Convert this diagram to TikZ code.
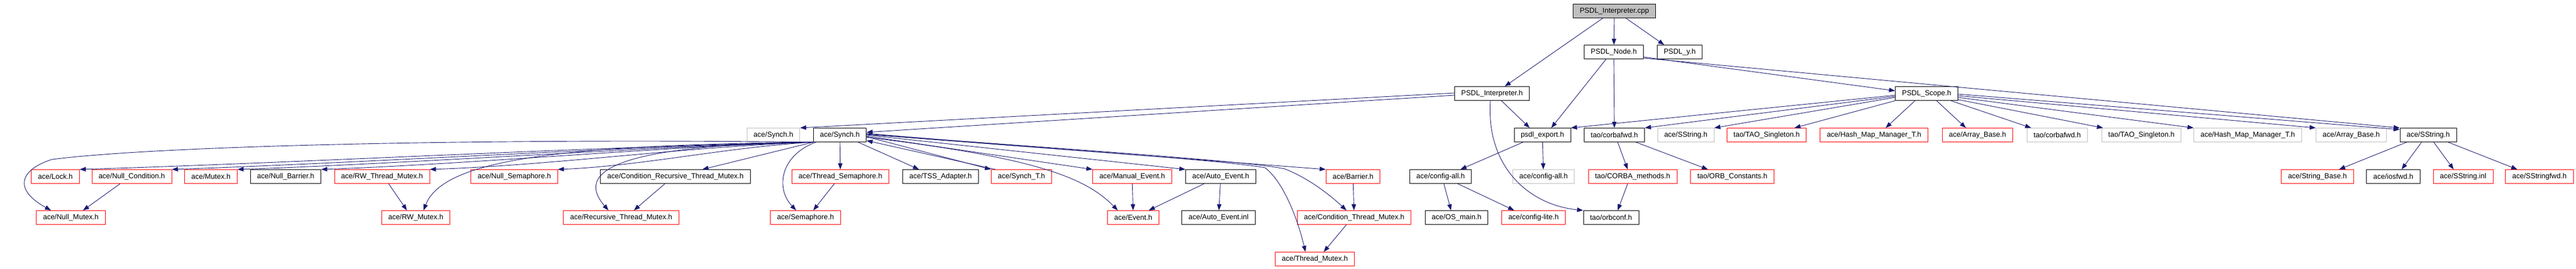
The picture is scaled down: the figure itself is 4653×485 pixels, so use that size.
\documentclass[tikz,border=0pt]{standalone}
\usepackage{fontspec}
\usetikzlibrary{arrows.meta}
\newfontfamily\filefont{Liberation Sans}
\definecolor{midnight}{RGB}{25,25,112}
\definecolor{doxgrey}{RGB}{191,191,191}

\begin{document}
\begin{tikzpicture}[
    x=1pt, y=-1pt,
    file/.style={rectangle, draw=black, line width=0.9pt, fill=white,
        minimum height=25pt, inner xsep=12pt, inner ysep=0pt,
        font={\filefont\fontsize{13}{15}\selectfont}},
    redfile/.style={file, draw=red},
    greyfile/.style={file, draw=doxgrey},
    root/.style={file, fill=doxgrey},
    edge/.style={midnight, line width=0.9pt, -{Triangle[length=11pt,width=8pt]}}
]
    \useasboundingbox (0,0) rectangle (4653,485);
    % top rows
    \node[root] (cpp) at (2916,20) {PSDL\_Interpreter.cpp};
    \node[file] (psdlnode) at (2915,94) {PSDL\_Node.h};
    \node[file] (psdly) at (3034,94) {PSDL\_y.h};
    \node[file] (interp) at (2695,169) {PSDL\_Interpreter.h};
    \node[file] (scope) at (3480,169) {PSDL\_Scope.h};
    % row 4
    \node[greyfile] (synchg) at (1397,244) {ace/Synch.h};
    \node[file] (synch) at (1517,244) {ace/Synch.h};
    \node[file] (export) at (2786,244) {psdl\_export.h};
    \node[file] (corbafwd) at (2916,244) {tao/corbafwd.h};
    \node[greyfile] (sstringg) at (3045,244) {ace/SString.h};
    \node[redfile] (taosing) at (3191,244) {tao/TAO\_Singleton.h};
    \node[redfile] (hashmap) at (3385,244) {ace/Hash\_Map\_Manager\_T.h};
    \node[redfile] (arraybase) at (3572,244) {ace/Array\_Base.h};
    \node[greyfile] (corbafwdg) at (3716,244) {tao/corbafwd.h};
    \node[greyfile] (taosingg) at (3868,244) {tao/TAO\_Singleton.h};
    \node[greyfile] (hashmapg) at (4060,244) {ace/Hash\_Map\_Manager\_T.h};
    \node[greyfile] (arraybaseg) at (4247,244) {ace/Array\_Base.h};
    \node[file] (sstring) at (4386,244) {ace/SString.h};
    % row 5
    \node[redfile] (lock) at (100,319) {ace/Lock.h};
    \node[redfile] (nullcond) at (238,319) {ace/Null\_Condition.h};
    \node[redfile] (mutex) at (381,319) {ace/Mutex.h};
    \node[file] (nullbarrier) at (516,319) {ace/Null\_Barrier.h};
    \node[redfile] (rwthread) at (690,319) {ace/RW\_Thread\_Mutex.h};
    \node[redfile] (nullsem) at (929,319) {ace/Null\_Semaphore.h};
    \node[file] (condrec) at (1220,319) {ace/Condition\_Recursive\_Thread\_Mutex.h};
    \node[redfile] (threadsem) at (1518,319) {ace/Thread\_Semaphore.h};
    \node[file] (tss) at (1699,319) {ace/TSS\_Adapter.h};
    \node[redfile] (syncht) at (1845,319) {ace/Synch\_T.h};
    \node[redfile] (manual) at (2045,319) {ace/Manual\_Event.h};
    \node[file] (auto) at (2205,319) {ace/Auto\_Event.h};
    \node[redfile] (barrier) at (2444,319) {ace/Barrier.h};
    \node[file] (configall) at (2602,319) {ace/config-all.h};
    \node[greyfile] (configallg) at (2788,319) {ace/config-all.h};
    \node[redfile] (corbameth) at (2949,319) {tao/CORBA\_methods.h};
    \node[redfile] (orbconst) at (3129,319) {tao/ORB\_Constants.h};
    \node[redfile] (stringbase) at (4186,319) {ace/String\_Base.h};
    \node[file] (iosfwd) at (4323,319) {ace/iosfwd.h};
    \node[redfile] (sstringinl) at (4449,319) {ace/SString.inl};
    \node[redfile] (sstringfwd) at (4587,319) {ace/SStringfwd.h};
    % row 6
    \node[redfile] (nullmutex) at (128,393) {ace/Null\_Mutex.h};
    \node[redfile] (rwmutex) at (751,393) {ace/RW\_Mutex.h};
    \node[redfile] (recthread) at (1122,393) {ace/Recursive\_Thread\_Mutex.h};
    \node[redfile] (semaphore) at (1455,393) {ace/Semaphore.h};
    \node[redfile] (event) at (2047,393) {ace/Event.h};
    \node[file] (autoinl) at (2201,393) {ace/Auto\_Event.inl};
    \node[redfile] (condthread) at (2446,393) {ace/Condition\_Thread\_Mutex.h};
    \node[file] (osmain) at (2631,393) {ace/OS\_main.h};
    \node[redfile] (configlite) at (2770,393) {ace/config-lite.h};
    \node[file] (orbconf) at (2910,393) {tao/orbconf.h};
    % row 7
    \node[redfile] (threadmutex) at (2375,468) {ace/Thread\_Mutex.h};

    % PSDL files
    \draw[edge] ([xshift=-21pt]cpp.south) -- ([xshift=23pt]interp.north);
    \draw[edge] (cpp) -- (psdlnode);
    \draw[edge] ([xshift=21pt]cpp.south) -- ([xshift=-28pt]psdly.north);
    \draw[edge] ([yshift=1pt]interp.west) -- (synchg.north east);
    \draw[edge] ([yshift=-3pt]interp.west) -- ([yshift=5pt]synch.east);
    \draw[edge] ([xshift=17pt]interp.south) -- ([xshift=-23pt]export.north);
    \draw[edge] ([xshift=-3pt]interp.south) .. controls (2684,300) and (2760,370) .. (orbconf.north west);
    \draw[edge] ([xshift=-14pt]psdlnode.south) -- ([xshift=16pt]export.north);
    \draw[edge] (psdlnode) -- (corbafwd);
    \draw[edge] ([yshift=-9pt]psdlnode.east) -- ([yshift=5pt]scope.west);
    \draw[edge] ([yshift=-11pt]psdlnode.east) -- (sstring.north west);
    \draw[edge] ([yshift=-3pt]scope.west) -- (export.north east);
    \draw[edge] ([yshift=-5pt]scope.west) -- (corbafwd.north east);
    \draw[edge] ([yshift=-7pt]scope.west) -- (sstringg.north east);
    \draw[edge] (scope.south west) -- ([xshift=-22pt]taosing.north east);
    \draw[edge] ([xshift=-21pt]scope.south) -- ([xshift=21pt]hashmap.north);
    \draw[edge] ([xshift=18pt]scope.south) -- ([xshift=-21pt]arraybase.north);
    \draw[edge] ([xshift=-13pt]scope.south east) -- ([xshift=8pt]corbafwdg.north west);
    \draw[edge] ([yshift=-11pt]scope.east) -- ([xshift=3pt]taosingg.north west);
    \draw[edge] ([yshift=-7pt]scope.east) -- (hashmapg.north west);
    \draw[edge] ([yshift=-4pt]scope.east) -- (arraybaseg.north west);
    \draw[edge] ([yshift=-1pt]scope.east) -- ([yshift=-3pt]sstring.north west);
    \draw[edge] ([xshift=-35pt]export.south) -- ([xshift=36pt]configall.north);
    \draw[edge] (export) -- (configallg);
    \draw[edge] ([xshift=6pt]configall.south) -- ([xshift=-10pt]osmain.north);
    \draw[edge] ([xshift=31pt]configall.south) -- ([xshift=-35pt]configlite.north);
    \draw[edge] ([xshift=6pt]corbafwd.south) -- ([xshift=-9pt]corbameth.north);
    \draw[edge] ([xshift=39pt]corbafwd.south) -- ([xshift=-44pt]orbconst.north);
    \draw[edge] ([xshift=-9pt]corbameth.south) -- ([xshift=12pt]orbconf.north);
    \draw[edge] ([xshift=-39pt]sstring.south) -- ([xshift=39pt]stringbase.north);
    \draw[edge] ([xshift=-12pt]sstring.south) -- ([xshift=15pt]iosfwd.north);
    \draw[edge] ([xshift=10pt]sstring.south) -- ([xshift=-17pt]sstringinl.north);
    \draw[edge] ([xshift=36pt]sstring.south) -- ([xshift=-40pt]sstringfwd.north);

    % ace/Synch.h, left side
    \draw[edge] (synch.south west) .. controls +(-400,8) and +(400,-12) .. (lock.north east);
    \draw[edge] (synch.south west) .. controls +(-350,8) and +(350,-12) .. (nullcond.north east);
    \draw[edge] (synch.south west) .. controls +(-300,8) and +(300,-10) .. (mutex.north east);
    \draw[edge] (synch.south west) .. controls +(-280,8) and +(280,-10) .. (nullbarrier.north east);
    \draw[edge] (synch.south west) .. controls +(-230,8) and +(230,-8) .. (rwthread.north east);
    \draw[edge] (synch.south west) .. controls +(-150,8) and +(150,-6) .. (nullsem.north east);
    \draw[edge] (synch.south west) -- ([xshift=-87pt]condrec.north east);
    \draw[edge] (synch.south west) .. controls (900,250) and (300,262) .. (94,288)
        .. controls (40,305) and (20,340) .. ([xshift=-36pt]nullmutex.north);
    \draw[edge] (synch.south west) .. controls (1000,262) and (800,290) .. ([xshift=14pt]rwmutex.north);
    \draw[edge] (synch.south west) .. controls (1150,262) and (1030,300) .. ([xshift=-23pt]recthread.north);
    \draw[edge] ([xshift=5pt]synch.south west) .. controls (1410,280) and (1400,340) .. ([xshift=-17pt]semaphore.north);
    \draw[edge] (synch) -- (threadsem);
    % ace/Synch.h, right side
    \draw[edge] ([xshift=-15pt]synch.south east) -- ([xshift=-39pt]tss.north);
    \draw[edge] ([yshift=-3pt]synch.east) -- (syncht.north west);
    \draw[edge] ([xshift=8pt]syncht.north west) -- ([yshift=-10pt]synch.east);
    \draw[edge] ([yshift=-4pt]synch.east) .. controls (1870,285) and (1960,320) .. ([xshift=-28pt]event.north);
    \draw[edge] ([yshift=-2pt]synch.east) -- (manual.north west);
    \draw[edge] (synch.east) -- (auto.north west);
    \draw[edge] ([yshift=1pt]synch.east) -- (barrier.north west);
    \draw[edge] ([yshift=2pt]synch.east) .. controls (1900,268) and (2250,290) .. (2320,305)
        .. controls (2360,320) and (2400,350) .. ([xshift=-14pt]condthread.north);
    \draw[edge] ([yshift=3pt]synch.east) .. controls (1900,270) and (2200,288) .. (2285,303)
        .. controls (2320,330) and (2345,400) .. ([xshift=-17pt]threadmutex.north);

    % second level
    \draw[edge] ([xshift=-21pt]nullcond.south) -- ([xshift=22pt]nullmutex.north);
    \draw[edge] ([xshift=12pt]rwthread.south) -- ([xshift=-16pt]rwmutex.north);
    \draw[edge] ([xshift=-19pt]condrec.south) -- ([xshift=23pt]recthread.north);
    \draw[edge] ([xshift=-11pt]threadsem.south) -- ([xshift=14pt]semaphore.north);
    \draw[edge] (manual) -- (event);
    \draw[edge] ([xshift=-30pt]auto.south) -- ([xshift=28pt]event.north);
    \draw[edge] (auto) -- (autoinl);
    \draw[edge] (barrier) -- (condthread);
    \draw[edge] ([xshift=-14pt]condthread.south) -- ([xshift=16pt]threadmutex.north);
\end{tikzpicture}
\end{document}
